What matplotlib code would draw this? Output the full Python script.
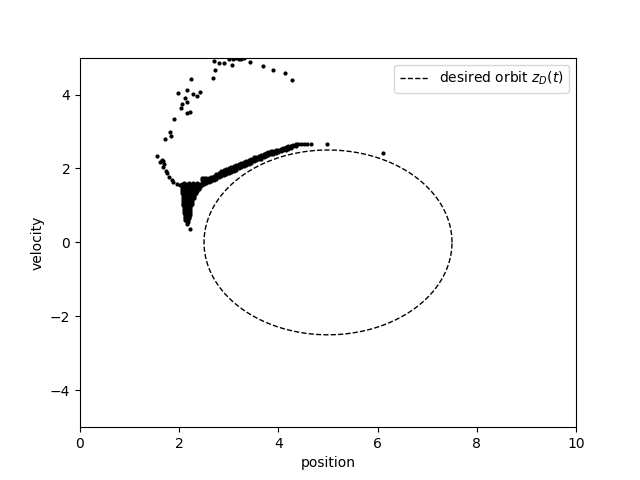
import numpy as np
import matplotlib
matplotlib.use("Agg")
import matplotlib.pyplot as plt

# scattered points on the upper arc
arc_x = [2.71, 2.81, 2.91, 3.00, 3.08, 3.15, 3.20, 3.25, 3.30, 3.07, 3.43, 3.68,
         3.90, 4.14, 4.28, 2.73, 2.69, 2.24, 1.98, 2.16, 2.28, 2.36, 2.42, 2.12,
         2.16, 2.06, 2.04, 2.16, 2.22, 1.90, 1.82, 1.84, 1.72]
arc_y = [4.90, 4.86, 4.86, 4.97, 4.95, 4.98, 4.95, 4.96, 4.99, 4.81, 4.89, 4.78,
         4.67, 4.57, 4.40, 4.67, 4.46, 4.43, 4.05, 4.13, 4.02, 3.97, 4.08, 3.91,
         3.80, 3.75, 3.64, 3.51, 3.53, 3.34, 2.99, 2.88, 2.80]

# left tail going into the blob, plus stray points
tail_x = [1.56, 1.62, 1.68, 1.65, 1.70, 1.67, 1.73, 1.76, 1.80, 1.86, 1.88, 1.95,
          2.02, 2.09, 2.21, 4.97, 6.11]
tail_y = [2.34, 2.17, 2.20, 2.23, 2.12, 2.05, 1.94, 1.87, 1.76, 1.70, 1.63, 1.58,
          1.55, 1.52, 0.37, 2.65, 2.43]

# dense stem: (velocity, positions)
stem_rows = [
    (1.62, [2.10, 2.19, 2.27, 2.36]),
    (1.58, [2.06, 2.14, 2.22, 2.30, 2.40]),
    (1.54, [2.05, 2.11, 2.17, 2.23, 2.29, 2.35, 2.42]),
    (1.50, [2.06, 2.12, 2.18, 2.24, 2.30, 2.36, 2.41]),
    (1.45, [2.05, 2.11, 2.17, 2.23, 2.29, 2.35, 2.40]),
    (1.40, [2.06, 2.12, 2.18, 2.24, 2.30, 2.35]),
    (1.35, [2.06, 2.12, 2.18, 2.24, 2.30, 2.34]),
    (1.30, [2.07, 2.13, 2.19, 2.25, 2.31]),
    (1.25, [2.07, 2.13, 2.19, 2.25, 2.30]),
    (1.20, [2.07, 2.13, 2.19, 2.25, 2.29]),
    (1.15, [2.08, 2.14, 2.20, 2.26]),
    (1.10, [2.08, 2.14, 2.20, 2.26]),
    (1.05, [2.08, 2.14, 2.20, 2.25]),
    (1.00, [2.08, 2.14, 2.20, 2.24]),
    (0.95, [2.09, 2.15, 2.21]),
    (0.90, [2.09, 2.15, 2.21]),
    (0.85, [2.10, 2.16, 2.22]),
    (0.80, [2.10, 2.16, 2.21]),
    (0.75, [2.11, 2.16, 2.21]),
    (0.70, [2.11, 2.16, 2.20]),
    (0.65, [2.12, 2.17, 2.20]),
    (0.60, [2.12, 2.17]),
    (0.55, [2.15, 2.18]),
    (0.50, [2.16]),
]

# branch towards the orbit: (position, velocities)
branch_rows = [
    (2.45, [1.56, 1.62, 1.68, 1.73]),
    (2.50, [1.58, 1.64, 1.70, 1.75]),
    (2.55, [1.61, 1.67, 1.73]),
    (2.60, [1.63, 1.69, 1.75]),
    (2.65, [1.65, 1.71, 1.78]),
    (2.70, [1.68, 1.74, 1.81]),
    (2.75, [1.72, 1.78, 1.85]),
    (2.80, [1.76, 1.82, 1.89]),
    (2.85, [1.79, 1.85, 1.92]),
    (2.90, [1.82, 1.88, 1.95]),
    (2.95, [1.85, 1.91, 1.98]),
    (3.00, [1.88, 1.94, 2.01]),
    (3.05, [1.91, 1.97, 2.04]),
    (3.10, [1.94, 2.00, 2.06]),
    (3.15, [1.97, 2.03, 2.09]),
    (3.20, [2.00, 2.06, 2.11]),
    (3.25, [2.03, 2.09, 2.14]),
    (3.30, [2.07, 2.13, 2.18]),
    (3.35, [2.10, 2.16, 2.21]),
    (3.40, [2.13, 2.19, 2.24]),
    (3.45, [2.16, 2.22, 2.27]),
    (3.50, [2.19, 2.25, 2.30]),
    (3.55, [2.22, 2.27, 2.32]),
    (3.60, [2.25, 2.30, 2.35]),
    (3.65, [2.27, 2.32, 2.37]),
    (3.70, [2.30, 2.35, 2.40]),
    (3.75, [2.33, 2.38, 2.42]),
    (3.80, [2.36, 2.40, 2.44]),
    (3.85, [2.38, 2.42, 2.46]),
    (3.90, [2.40, 2.44, 2.48]),
    (3.95, [2.42, 2.46, 2.49]),
    (4.00, [2.44, 2.48, 2.51]),
    (4.05, [2.46, 2.50, 2.53]),
    (4.10, [2.49, 2.53, 2.56]),
    (4.15, [2.51, 2.55, 2.58]),
    (4.20, [2.54, 2.58, 2.60]),
    (4.25, [2.56, 2.60, 2.62]),
    (4.30, [2.60, 2.63]),
    (4.35, [2.62, 2.65]),
    (4.40, [2.65]),
    (4.45, [2.66]),
    (4.52, [2.66]),
    (4.58, [2.66]),
    (4.65, [2.66]),
]

# desired orbit
orbit_center = (5.0, 0.0)
orbit_radius = 2.5

pos = list(arc_x) + list(tail_x)
vel = list(arc_y) + list(tail_y)
for v, xs in stem_rows:
    pos += xs
    vel += [v] * len(xs)
for p, vs in branch_rows:
    pos += [p] * len(vs)
    vel += vs

theta = np.linspace(0, 2 * np.pi, 400)
ox = orbit_center[0] + orbit_radius * np.cos(theta)
oy = orbit_center[1] + orbit_radius * np.sin(theta)

fig, ax = plt.subplots(figsize=(6.4, 4.8), dpi=100)
ax.scatter(pos, vel, s=4, color="black")
ax.plot(ox, oy, "--", color="black", linewidth=1, label="desired orbit $z_D(t)$")
ax.set_xlim(0, 10)
ax.set_ylim(-5, 5)
ax.set_xlabel("position")
ax.set_ylabel("velocity")
ax.legend(loc="upper right")
fig.savefig("out.png")
